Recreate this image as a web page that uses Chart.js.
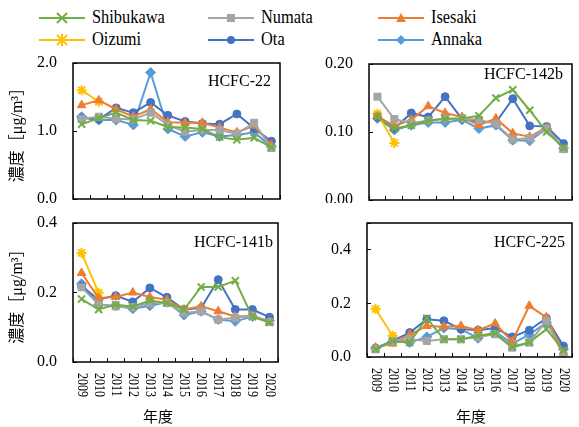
<!DOCTYPE html>
<html>
<head>
<meta charset="utf-8">
<script src="https://cdn.jsdelivr.net/npm/chart.js@4.4.0/dist/chart.umd.min.js"></script>
<style>
  body { margin: 0; background: #fff; width: 579px; height: 427px; position: relative; overflow: hidden; font-family: "Liberation Serif", "DejaVu Serif", serif; }
  .pane { position: absolute; background: #fff; }
  .pane canvas { display: block; }
  .lg { position: absolute; height: 20px; }
  .lg svg { position: absolute; left: 0; top: 0; }
  .lg span { position: absolute; top: -2px; font-size: 18px; line-height: 22px; white-space: nowrap; transform: scaleX(0.91); transform-origin: left center; color: #000; }
  .xt { position: absolute; font-family: "Noto Sans CJK JP", sans-serif; font-size: 15px; color: #000; }
</style>
</head>
<body>

<div id="legend"></div>

<div class="pane" style="left:0;top:50px"><canvas id="c22" width="290" height="160"></canvas></div>
<div class="pane" style="left:290px;top:50px"><canvas id="c142b" width="289" height="160"></canvas></div>
<div class="pane" style="left:0;top:210px"><canvas id="c141b" width="290" height="217"></canvas></div>
<div class="pane" style="left:290px;top:203px"><canvas id="c225" width="289" height="224"></canvas></div>

<div class="xt" style="left:143px;top:405px">年度</div>
<div class="xt" style="left:456px;top:405px">年度</div>

<script>
// --- データ ---
const years = ['2009', '2010', '2011', '2012', '2013', '2014', '2015', '2016', '2017', '2018', '2019', '2020'];
const sites = ['Shibukawa', 'Numata', 'Isesaki', 'Oizumi', 'Ota', 'Annaka'];

// HCFC-22
const hcfc22Shibukawa = [1.10, 1.19, 1.27, 1.16, 1.15, 1.06, 1.05, 1.03, 0.91, 0.87, 0.90, 0.76];
const hcfc22Numata    = [1.18, 1.21, 1.18, 1.17, 1.27, 1.09, 0.99, 1.02, 1.01, 0.96, 1.12, 0.75];
const hcfc22Isesaki   = [1.38, 1.45, 1.32, 1.21, 1.32, 1.13, 1.12, 1.12, 1.05, 0.98, 1.08, 0.79];
const hcfc22Oizumi    = [1.60, 1.43, null, null, null, null, null, null, null, null, null, null];
const hcfc22Ota       = [1.19, 1.17, 1.34, 1.27, 1.42, 1.23, 1.14, 1.11, 1.10, 1.25, 1.04, 0.85];
const hcfc22Annaka    = [1.21, 1.16, 1.16, 1.09, 1.86, 1.03, 0.92, 0.98, 0.92, 0.94, 0.98, 0.77];

// HCFC-142b
const hcfc142bShibukawa = [0.123, 0.105, 0.110, 0.117, 0.119, 0.120, 0.124, 0.150, 0.162, 0.132, 0.100, 0.077];
const hcfc142bNumata    = [0.152, 0.119, 0.113, 0.117, 0.120, 0.120, 0.118, 0.112, 0.089, 0.091, 0.105, 0.075];
const hcfc142bIsesaki   = [0.123, 0.109, 0.118, 0.138, 0.128, 0.122, 0.110, 0.120, 0.098, 0.093, 0.107, 0.074];
const hcfc142bOizumi    = [0.127, 0.084, null, null, null, null, null, null, null, null, null, null];
const hcfc142bOta       = [0.122, 0.105, 0.128, 0.122, 0.152, 0.119, 0.115, 0.114, 0.149, 0.109, 0.108, 0.083];
const hcfc142bAnnaka    = [0.120, 0.103, 0.110, 0.114, 0.114, 0.118, 0.105, 0.110, 0.088, 0.087, 0.105, 0.076];

// HCFC-141b
const hcfc141bShibukawa = [0.181, 0.151, 0.165, 0.160, 0.177, 0.170, 0.151, 0.216, 0.216, 0.234, 0.130, 0.114];
const hcfc141bNumata    = [0.215, 0.165, 0.160, 0.158, 0.170, 0.170, 0.141, 0.146, 0.122, 0.127, 0.133, 0.115];
const hcfc141bIsesaki   = [0.256, 0.184, 0.187, 0.200, 0.187, 0.179, 0.151, 0.160, 0.146, 0.131, 0.133, 0.115];
const hcfc141bOizumi    = [0.314, 0.199, null, null, null, null, null, null, null, null, null, null];
const hcfc141bOta       = [0.218, 0.180, 0.191, 0.173, 0.213, 0.186, 0.151, 0.155, 0.237, 0.151, 0.151, 0.129];
const hcfc141bAnnaka    = [0.225, 0.165, 0.162, 0.153, 0.162, 0.172, 0.135, 0.146, 0.122, 0.117, 0.131, 0.119];

// HCFC-225
const hcfc225Shibukawa = [0.029, 0.060, 0.054, 0.145, 0.066, 0.066, 0.079, 0.088, 0.038, 0.054, 0.104, 0.025];
const hcfc225Numata    = [0.029, 0.058, 0.066, 0.060, 0.066, 0.066, 0.075, 0.085, 0.035, 0.054, 0.135, 0.004];
const hcfc225Isesaki   = [0.035, 0.050, 0.083, 0.116, 0.113, 0.116, 0.100, 0.125, 0.058, 0.191, 0.148, 0.016];
const hcfc225Oizumi    = [0.179, 0.079, null, null, null, null, null, null, null, null, null, null];
const hcfc225Ota       = [0.033, 0.060, 0.091, 0.141, 0.135, 0.104, 0.100, 0.108, 0.075, 0.100, 0.145, 0.041];
const hcfc225Annaka    = [0.033, 0.058, 0.054, 0.075, 0.108, 0.104, 0.070, 0.095, 0.050, 0.083, 0.129, 0.029];

// --- スタイル ---
const siteColors  = ['#70AD47', '#A5A5A5', '#ED7D31', '#FFC000', '#4472C4', '#5B9BD5'];
const siteMarkers = ['crossRot', 'rect', 'triangle', 'star', 'circle', 'rectRot'];
const markerSize  = { crossRot: 5, rect: 5, triangle: 5, star: 5, circle: 4, rectRot: 5 };
const serif = "'Liberation Serif', 'DejaVu Serif', serif";

// 枠線・物質名・年ラベル
const panelDecor = {
    id: 'panelDecor',
    afterDraw(chart, args, opts) {
        const { ctx, chartArea: a } = chart;
        ctx.save();
        ctx.strokeStyle = '#000';
        ctx.lineWidth = 1.5;
        ctx.strokeRect(a.left, a.top, a.right - a.left, a.bottom - a.top);

        ctx.fillStyle = '#000';
        ctx.font = '16px ' + serif;
        ctx.textAlign = 'right';
        ctx.textBaseline = 'middle';
        ctx.fillText(opts.name, a.right - opts.nameDx, a.top + opts.nameDy);

        if (opts.years) {
            const xs = chart.scales.x;
            ctx.font = '15px ' + serif;
            ctx.textAlign = 'left';
            xs.ticks.forEach((t, i) => {
                ctx.save();
                ctx.translate(xs.getPixelForTick(i), a.bottom + 11);
                ctx.rotate(Math.PI / 2);
                ctx.scale(0.8, 1);
                ctx.fillText(xs.getLabelForValue(t.value), 0, 0);
                ctx.restore();
            });
        }
        ctx.restore();
    }
};

function makeDatasets(series) {
    return series.map((data, i) => ({
        label: sites[i],
        data: data,
        borderColor: siteColors[i],
        backgroundColor: siteColors[i],
        borderWidth: 2,
        pointStyle: siteMarkers[i],
        pointRadius: markerSize[siteMarkers[i]],
        pointBorderWidth: (siteMarkers[i] === 'crossRot' || siteMarkers[i] === 'star') ? 2 : 1,
        tension: 0
    }));
}

function yAxis(max, step, digits, showTitle, width) {
    return {
        min: 0,
        max: max,
        border: { display: false },
        grid: { drawOnChartArea: false, tickLength: -4, color: '#000', lineWidth: 1 },
        ticks: {
            stepSize: step,
            padding: 20,
            color: '#000',
            font: { family: serif, size: 16 },
            callback: v => Math.abs(v / step - Math.round(v / step)) < 1e-6 ? v.toFixed(digits) : ''
        },
        title: {
            display: showTitle,
            text: '濃度［μg/m³］',
            color: '#000',
            font: { family: "'Liberation Serif', 'Noto Sans CJK JP', serif", size: 16 },
            padding: { top: 8, bottom: 0 }
        },
        // 軸幅を固定し、ラベル用の上下余白は layout.padding 側で持つ
        afterFit: s => { s.width = width; s.paddingTop = 0; s.paddingBottom = 0; }
    };
}

function xAxis(height) {
    return {
        offset: true,
        border: { display: false },
        grid: { offset: true, drawOnChartArea: false, tickLength: -4, color: '#000', lineWidth: 1 },
        ticks: { display: false },
        afterFit: s => { s.height = height; s.paddingLeft = 0; s.paddingRight = 0; }
    };
}

function renderPanel(id, series, cfg) {
    new Chart(document.getElementById(id), {
        type: 'line',
        data: { labels: years, datasets: makeDatasets(series) },
        options: {
            responsive: false,
            animation: false,
            layout: { padding: { top: cfg.top, right: cfg.right, left: 0, bottom: 0 } },
            plugins: {
                legend: { display: false },
                tooltip: { enabled: false },
                panelDecor: { name: cfg.name, nameDx: cfg.nameDx, nameDy: cfg.nameDy, years: cfg.years }
            },
            scales: {
                x: xAxis(cfg.xHeight),
                y: yAxis(cfg.max, cfg.step, cfg.digits, cfg.yTitle, cfg.yWidth)
            }
        },
        plugins: [panelDecor]
    });
}

// 凡例 (HTML)
function markerSvg(style, c) {
    const cx = 23, cy = 10;
    switch (style) {
        case 'crossRot': return `<path d="M${cx-5} ${cy-5}L${cx+5} ${cy+5}M${cx+5} ${cy-5}L${cx-5} ${cy+5}" stroke="${c}" stroke-width="2"/>`;
        case 'star': return `<path d="M${cx-5} ${cy-5}L${cx+5} ${cy+5}M${cx+5} ${cy-5}L${cx-5} ${cy+5}M${cx} ${cy-6}L${cx} ${cy+6}" stroke="${c}" stroke-width="2"/>`;
        case 'rect': return `<rect x="${cx-4}" y="${cy-4}" width="8" height="8" fill="${c}"/>`;
        case 'triangle': return `<path d="M${cx} ${cy-5}L${cx+5} ${cy+4}L${cx-5} ${cy+4}Z" fill="${c}"/>`;
        case 'circle': return `<circle cx="${cx}" cy="${cy}" r="4" fill="${c}"/>`;
        default: return `<path d="M${cx} ${cy-5}L${cx+5} ${cy}L${cx} ${cy+5}L${cx-5} ${cy}Z" fill="${c}"/>`;
    }
}

function renderLegend() {
    const colX = [39, 208, 378];
    const rowY = [8, 30];
    let html = '';
    sites.forEach((name, i) => {
        const x = colX[i % 3], y = rowY[Math.floor(i / 3)];
        const c = siteColors[i];
        html += `<div class="lg" style="left:${x}px;top:${y}px">` +
            `<svg width="48" height="20"><line x1="0" y1="10" x2="46" y2="10" stroke="${c}" stroke-width="2"/>${markerSvg(siteMarkers[i], c)}</svg>` +
            `<span style="left:53px">${name}</span></div>`;
    });
    document.getElementById('legend').innerHTML = html;
}

renderLegend();

renderPanel('c22',
    [hcfc22Shibukawa, hcfc22Numata, hcfc22Isesaki, hcfc22Oizumi, hcfc22Ota, hcfc22Annaka],
    { name: 'HCFC-22', nameDx: 9, nameDy: 19, max: 2.0, step: 1.0, digits: 1, yTitle: true,
      yWidth: 73, xHeight: 11, top: 13, right: 10, years: false });

renderPanel('c142b',
    [hcfc142bShibukawa, hcfc142bNumata, hcfc142bIsesaki, hcfc142bOizumi, hcfc142bOta, hcfc142bAnnaka],
    { name: 'HCFC-142b', nameDx: 9, nameDy: 11, max: 0.20, step: 0.10, digits: 2, yTitle: false,
      yWidth: 79, xHeight: 10, top: 14, right: 2, years: false });

renderPanel('c141b',
    [hcfc141bShibukawa, hcfc141bNumata, hcfc141bIsesaki, hcfc141bOizumi, hcfc141bOta, hcfc141bAnnaka],
    { name: 'HCFC-141b', nameDx: 5, nameDy: 20, max: 0.4, step: 0.2, digits: 1, yTitle: true,
      yWidth: 73, xHeight: 65, top: 13, right: 12, years: true });

renderPanel('c225',
    [hcfc225Shibukawa, hcfc225Numata, hcfc225Isesaki, hcfc225Oizumi, hcfc225Ota, hcfc225Annaka],
    { name: 'HCFC-225', nameDx: 7, nameDy: 20, max: 0.5, step: 0.2, digits: 1, yTitle: false,
      yWidth: 77, xHeight: 70, top: 20, right: 2, years: true });
</script>
</body>
</html>
